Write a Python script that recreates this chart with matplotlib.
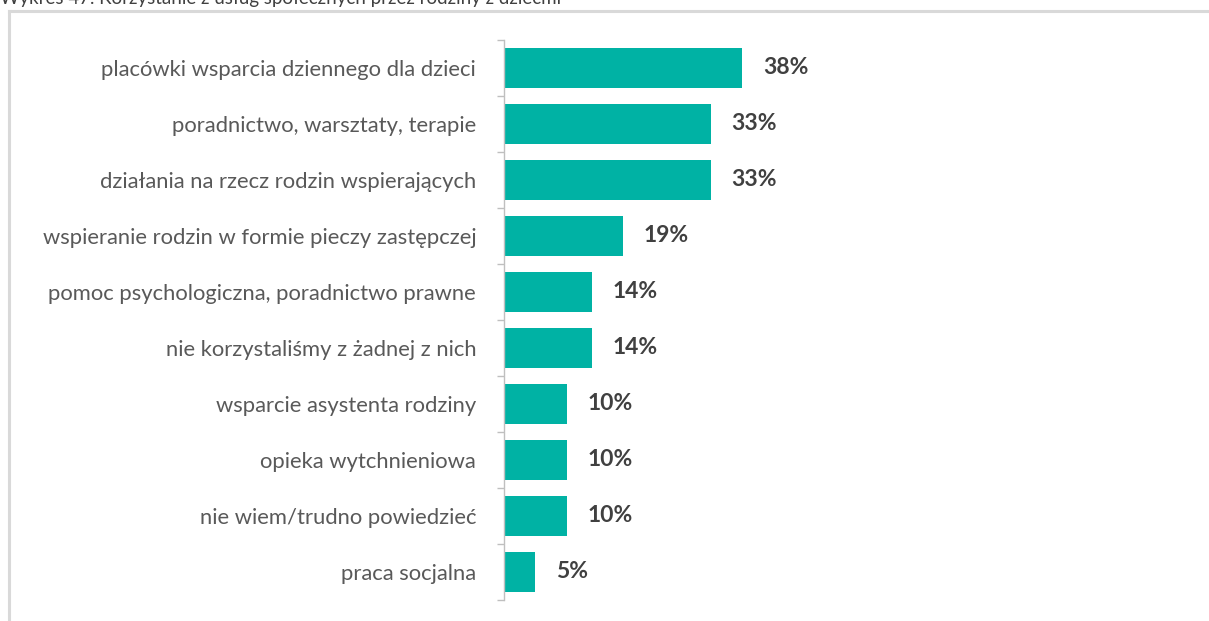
import matplotlib
matplotlib.use("Agg")
import matplotlib.pyplot as plt
import numpy as np

categories = [
    "placówki wsparcia dziennego dla dzieci",
    "poradnictwo, warsztaty, terapie",
    "działania na rzecz rodzin wspierających",
    "wspieranie rodzin w formie pieczy zastępczej",
    "pomoc psychologiczna, poradnictwo prawne",
    "nie korzystaliśmy z żadnej z nich",
    "wsparcie asystenta rodziny",
    "opieka wytchnieniowa",
    "nie wiem/trudno powiedzieć",
    "praca socjalna",
]
values = [38, 33, 33, 19, 14, 14, 10, 10, 10, 5]
value_labels = ["38%", "33%", "33%", "19%", "14%", "14%", "10%", "10%", "10%", "5%"]
title = "Wykres 47. Korzystanie z usług społecznych przez rodziny z dziećmi"

W, H = 1209, 621
fig = plt.figure(figsize=(W / 100, H / 100), dpi=100)
fig.patch.set_facecolor("white")

font = "Lato"
bar_color = "#00B2A4"

ax_left, ax_top, ax_bottom = 504, 40, 600
ax = fig.add_axes([ax_left / W, (H - ax_bottom) / H, (W - ax_left) / W, (ax_bottom - ax_top) / H])
px_per_unit = 6.26
ax.set_xlim(0, (W - ax_left) / px_per_unit)
n = len(categories)
ax.set_ylim(n - 0.5, -0.5)

y = np.arange(n)
ax.barh(y, values, height=0.71, color=bar_color, zorder=2)

for yi, v, lab in zip(y, values, value_labels):
    ax.annotate(lab, (v, yi), xytext=(21, 0), textcoords="offset pixels",
                va="center", ha="left", fontsize=16.5, fontweight="bold",
                color="#404040", family=font)

for s in ["top", "right", "bottom"]:
    ax.spines[s].set_visible(False)
ax.spines["left"].set_color("#BFBFBF")
ax.spines["left"].set_linewidth(1.0)
ax.set_xticks([])
ax.set_yticks(y)
ax.set_yticklabels(categories, fontsize=15.8, color="#595959", family=font)
ax.tick_params(axis="y", which="major", length=0, pad=20)
ax.set_yticks(np.arange(n + 1) - 0.5, minor=True)
ax.tick_params(axis="y", which="minor", length=5, color="#BFBFBF", width=1.0)
ax.set_facecolor("white")

# chart frame (left and top edges visible)
frame_col = "#D9D9D9"
fig.add_artist(plt.Line2D([9 / W, 9 / W], [0, 1 - 11 / H], color=frame_col, lw=2.2, transform=fig.transFigure))
fig.add_artist(plt.Line2D([9 / W, 1], [1 - 11 / H, 1 - 11 / H], color=frame_col, lw=2.2, transform=fig.transFigure))

fig.text(0, 1 - 4 / H, title, fontsize=13.5, color="#404040", family=font, va="baseline", ha="left")

fig.savefig("out.png", dpi=100, facecolor="white")
